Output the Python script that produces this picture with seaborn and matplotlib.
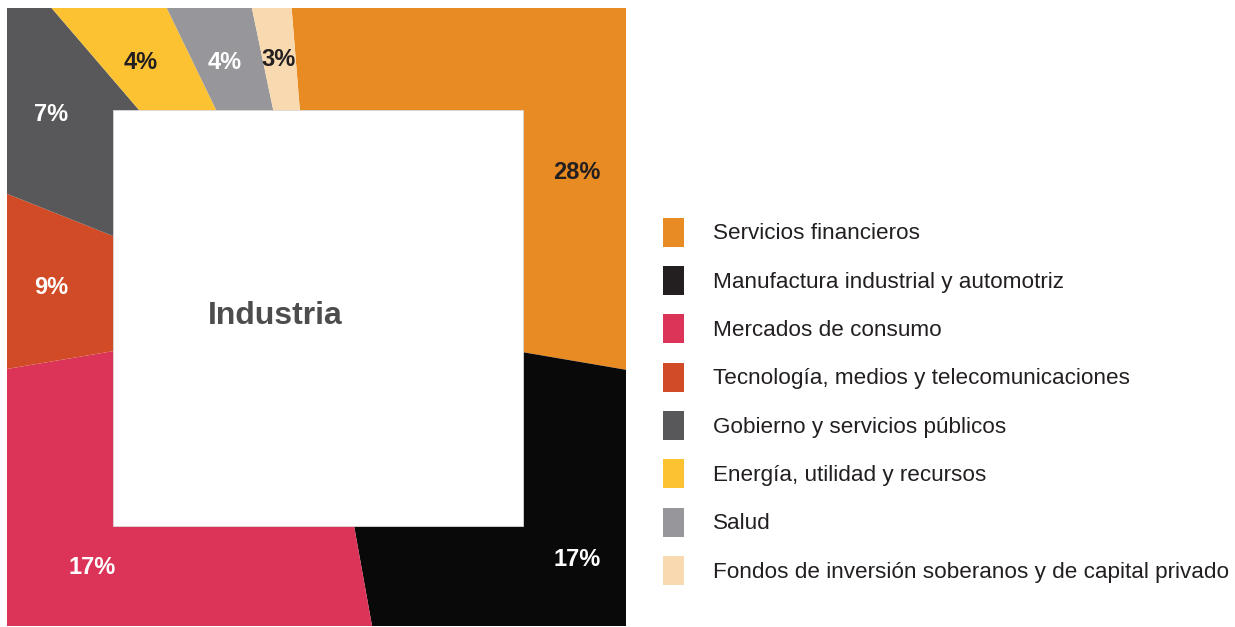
import matplotlib
matplotlib.use("Agg")
import matplotlib.pyplot as plt
import matplotlib.patches as mpatches
import seaborn as sns

# sectores (orden del gráfico, en sentido horario desde arriba)
sectores = [
    "Servicios financieros",
    "Manufactura industrial y automotriz",
    "Mercados de consumo",
    "Tecnología, medios y telecomunicaciones",
    "Gobierno y servicios públicos",
    "Energía, utilidad y recursos",
    "Salud",
    "Fondos de inversión soberanos y de capital privado",
]
# tamaño de cada porción tal como se ve en la imagen
porciones = [29.0, 19.5, 25.2, 8.7, 7.7, 4.1, 3.9, 2.0]
# etiquetas impresas en el gráfico
etiquetas = ["28%", "17%", "17%", "9%", "7%", "4%", "4%", "3%"]
colores = ["#e98b23", "#0a0909", "#db3458", "#d04b26",
           "#58585a", "#fdc232", "#97979b", "#f9dab0"]
colores_leyenda = ["#e98b23", "#231f20", "#db3458", "#d04b26",
                   "#58585a", "#fdc232", "#97979b", "#f9dab0"]
color_texto = ["#231f20", "white", "white", "white",
               "white", "#231f20", "white", "#231f20"]

sns.set_style("white")
plt.rcParams["font.family"] = ["Liberation Sans", "DejaVu Sans"]

fig = plt.figure(figsize=(12.35, 6.27), dpi=100)
ax = fig.add_axes([7 / 1235, 1 / 627, 619 / 1235, 618 / 627])

wedges, _ = ax.pie(porciones, colors=colores, radius=1.7, startangle=94.6,
                   counterclock=False, wedgeprops=dict(linewidth=0))
ax.set_xlim(-1, 1)
ax.set_ylim(-1, 1)
ax.set_aspect("auto")
ax.axis("off")

# recortar el pastel al cuadrado de los ejes
recorte = mpatches.Rectangle((0, 0), 1, 1, transform=ax.transAxes)
for w in wedges:
    w.set_clip_on(True)
    w.set_clip_path(recorte)

# recuadro blanco central
ax.add_patch(mpatches.Rectangle((-0.657, -0.676), 1.324, 1.346,
                                facecolor="white", edgecolor="#d8d8d8",
                                linewidth=0.6, zorder=3))
ax.text(-0.134, 0.003, "Industria", ha="center", va="center",
        fontsize=23, fontweight="bold", color="#4d4d4f", zorder=4)

# posición de cada etiqueta (fracción de ejes)
pos_etiquetas = [(0.921, 0.734), (0.921, 0.108), (0.137, 0.095), (0.071, 0.548),
                 (0.071, 0.828), (0.216, 0.912), (0.351, 0.912), (0.439, 0.917)]
for txt, (px, py), c in zip(etiquetas, pos_etiquetas, color_texto):
    ax.text(px, py, txt, transform=ax.transAxes, ha="center", va="center",
            fontsize=17, fontweight="bold", color=c, zorder=4)

handles = [mpatches.Patch(facecolor=c, edgecolor="none") for c in colores_leyenda]
fig.legend(handles, sectores, loc="upper left",
           bbox_to_anchor=(663 / 1235, 1 - 217.5 / 627),
           frameon=False, fontsize=16.2, handlelength=0.93, handleheight=1.606,
           handletextpad=1.28, labelspacing=0.86, borderaxespad=0, borderpad=0,
           labelcolor="#231f20")

fig.savefig("out.png", dpi=100, facecolor="white")
